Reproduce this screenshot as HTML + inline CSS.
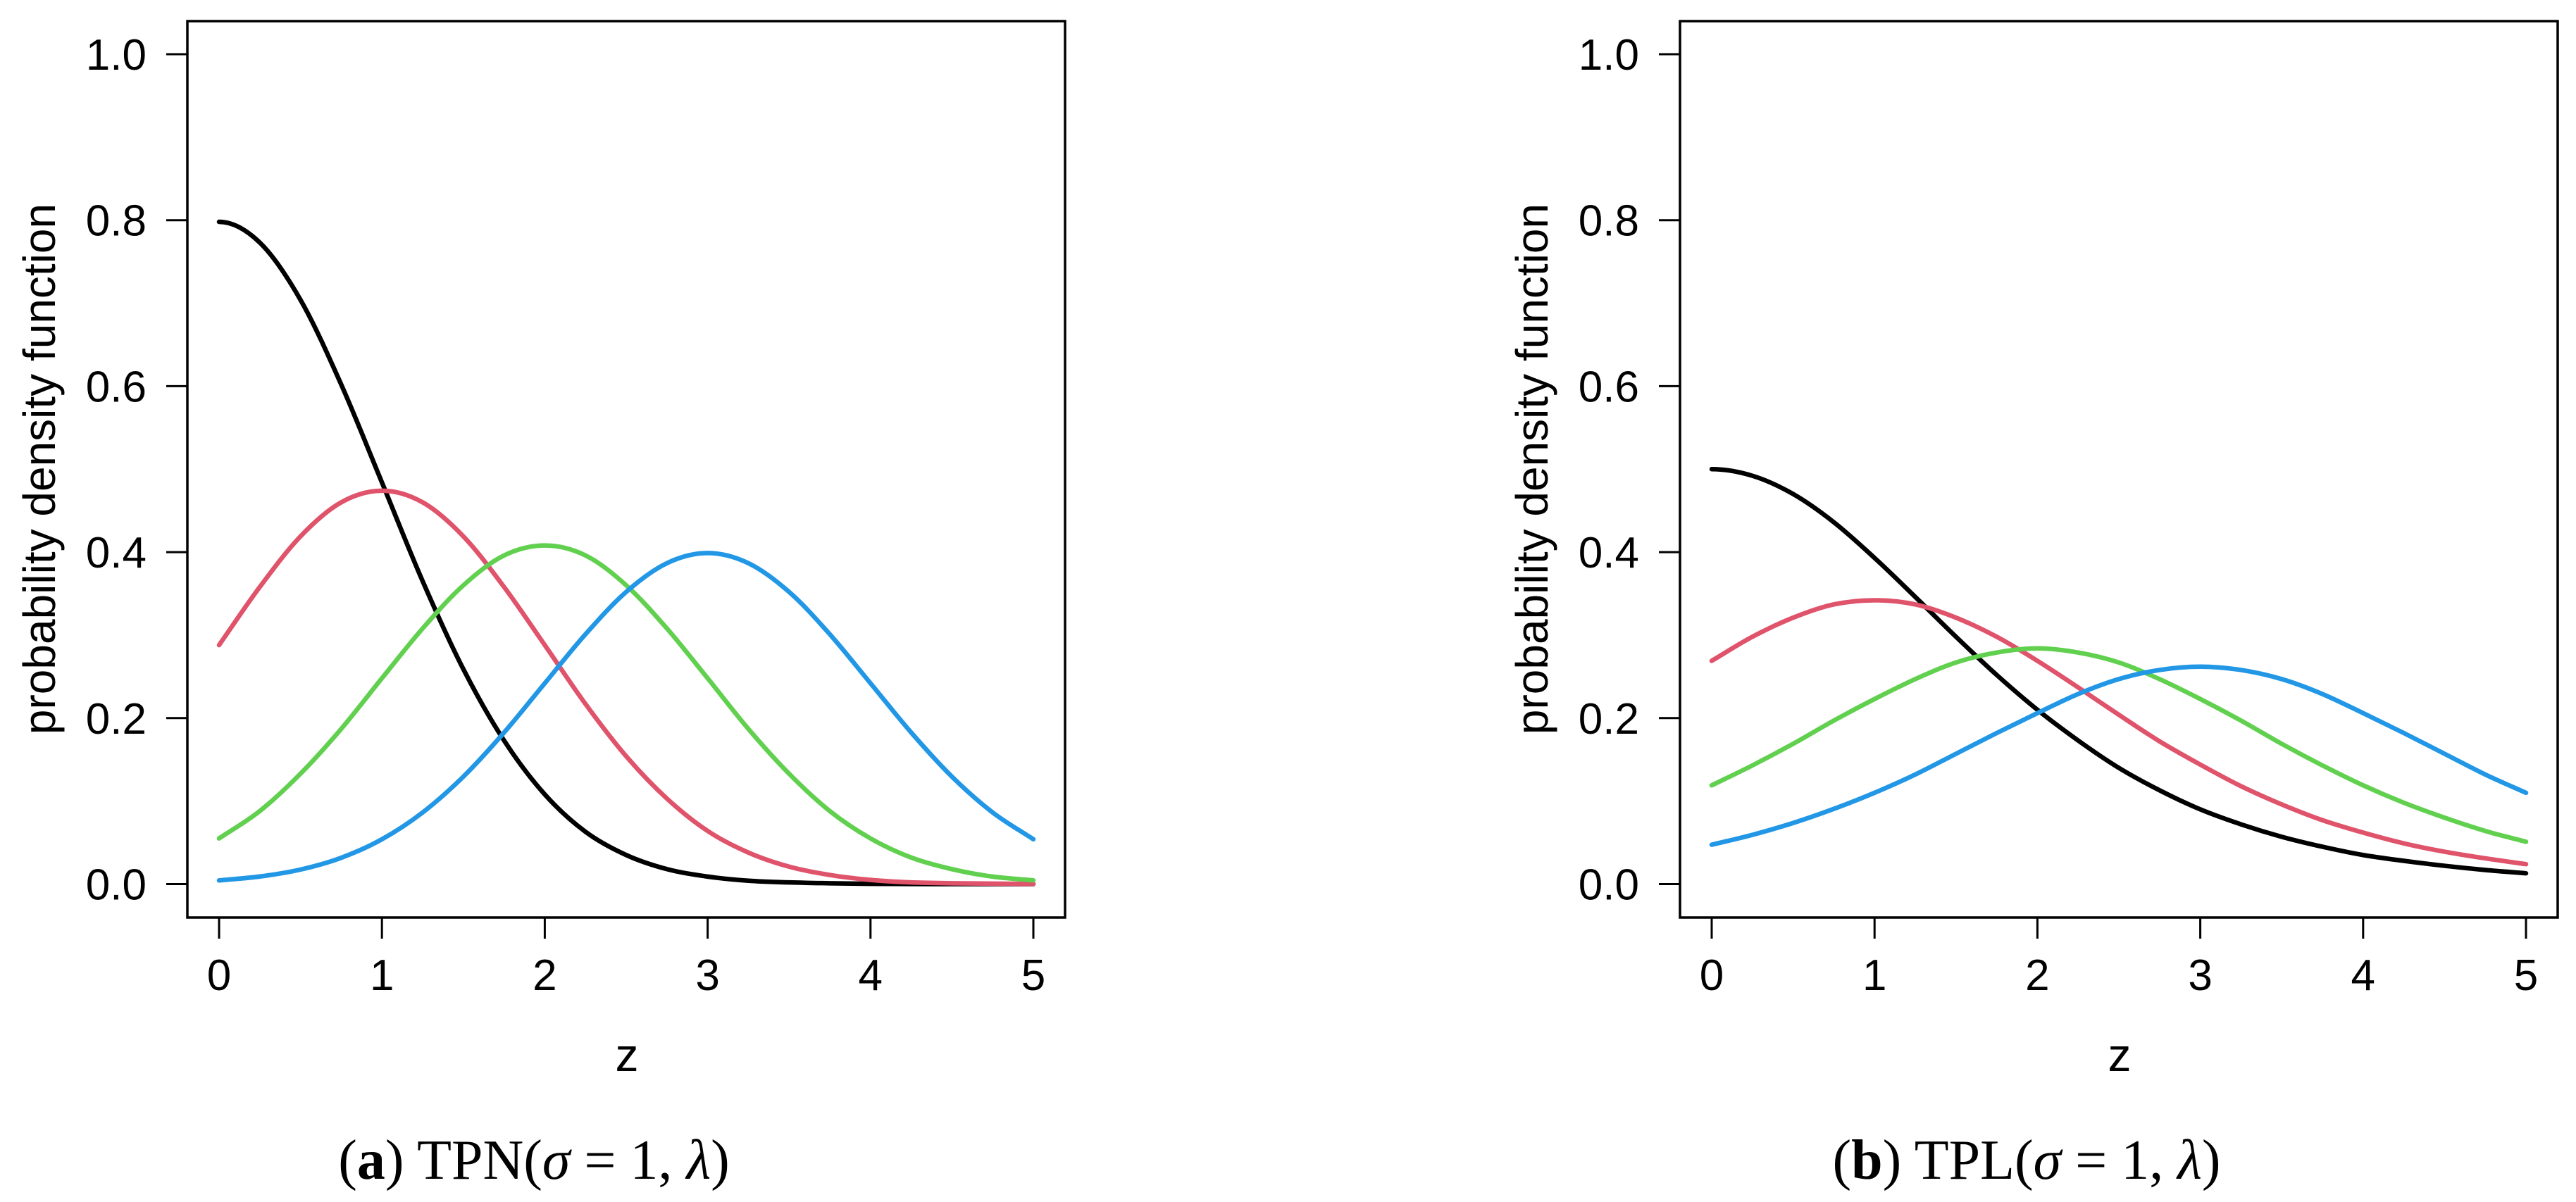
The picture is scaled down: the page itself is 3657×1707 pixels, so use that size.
<!DOCTYPE html>
<html><head><meta charset="utf-8">
<style>
html,body{margin:0;padding:0;background:#fff;}
svg{display:block;}
text{font-family:"Liberation Sans",sans-serif;fill:#000;}
.cap{font-family:"Liberation Serif",serif;}
</style></head>
<body>
<svg id="fig" width="3657" height="1707" viewBox="0 0 3657 1707" xmlns="http://www.w3.org/2000/svg"></svg>
<script>
const zValues=[0,0.25,0.5,0.75,1,1.25,1.5,1.75,2,2.25,2.5,2.75,3,3.25,3.5,3.75,4,4.25,4.5,4.75,5];
const xTicks=[0,1,2,3,4,5];
const yTicks=[0.0,0.2,0.4,0.6,0.8,1.0];
const yTickLabels=["0.0","0.2","0.4","0.6","0.8","1.0"];
const seriesColors=["#000000","#DF536B","#61D04F","#2297E6"];
const tpnBlack=[.798,.773,.704,.602,.484,.365,.259,.173,.108,.063,.035,.018,.009,.004,.002,.001,.0003,.0001,0,0,0];
const tpnRed=[.288,.358,.419,.460,.474,.460,.419,.358,.288,.217,.154,.103,.064,.038,.021,.011,.005,.002,.001,.0005,.0002];
const tpnGreen=[.055,.088,.133,.187,.248,.308,.360,.396,.408,.396,.360,.308,.248,.187,.133,.088,.055,.032,.018,.009,.0045];
const tpnBlue=[.0044,.0091,.0175,.0317,.054,.0863,.1295,.1826,.242,.3011,.3521,.3867,.3989,.3867,.3521,.3011,.242,.1826,.1295,.0863,.054];
const tplBlack=[.5,.492,.470,.436,.393,.346,.298,.252,.210,.173,.140,.113,.090,.072,.057,.045,.035,.028,.022,.017,.013];
const tplRed=[.269,.298,.321,.337,.342,.337,.321,.298,.269,.237,.204,.172,.144,.118,.096,.077,.062,.049,.039,.031,.024];
const tplGreen=[.119,.143,.169,.197,.223,.247,.267,.279,.284,.279,.267,.247,.223,.197,.169,.143,.119,.098,.080,.064,.051];
const tplBlue=[.0474,.0593,.0736,.0906,.110,.132,.157,.182,.206,.229,.247,.258,.262,.258,.247,.229,.206,.182,.157,.132,.110];

const NS="http://www.w3.org/2000/svg";
const svg=document.getElementById('fig');
function mk(tag,attrs,parent){const e=document.createElementNS(NS,tag);for(const k in attrs)e.setAttribute(k,attrs[k]);(parent||svg).appendChild(e);return e;}

function panel(off,series,names,capLetter,capName,id){
  const g=mk('g',{});
  
  
  const x0=311+off,x1=1467+off,y0=1255.5,y1=77;
  const X=v=>x0+(x1-x0)*v/5;
  const Y=v=>y0+(y1-y0)*v/1.0;
  const box=mk('rect',{x:266+off,y:30,width:1246,height:1273,fill:'none',stroke:'#000','stroke-width':3.5},g);
  
  
  xTicks.forEach(t=>{
    const l=mk('line',{x1:X(t),x2:X(t),y1:1303,y2:1333,stroke:'#000','stroke-width':3},g);
    
    
    const tx=mk('text',{x:X(t),y:1406,'font-size':62,'text-anchor':'middle'},g);
    tx.textContent=t;
    
    
  });
  yTicks.forEach((t,i)=>{
    const l=mk('line',{x1:236+off,x2:266+off,y1:Y(t),y2:Y(t),stroke:'#000','stroke-width':3},g);
    
    
    const tx=mk('text',{x:208+off,y:Y(t)+22,'font-size':62,'text-anchor':'end'},g);
    tx.textContent=yTickLabels[i];
    
    
  });
  const xl=mk('text',{x:890+off,y:1521,'font-size':66,'text-anchor':'middle'},g);
  xl.textContent='z';
  
  
  const yl=mk('text',{x:0,y:0,'font-size':64,'text-anchor':'middle',transform:`translate(${78+off},666) rotate(-90)`},g);
  yl.textContent='probability density function';
  
  
  series.forEach((vals,si)=>{
    const pts=vals.map((v,i)=>[X(zValues[i]),Y(v)]);
    const n=pts.length;
    const ghostStart=[2*pts[0][0]-pts[1][0],2*pts[0][1]-pts[1][1]];
    const ghostEnd=[2*pts[n-1][0]-pts[n-2][0],2*pts[n-1][1]-pts[n-2][1]];
    if(si===0 && vals[1]<vals[0]) ghostStart[1]=pts[1][1];
    const P=i=>i<0?ghostStart:(i>=n?ghostEnd:pts[i]);
    let d=`M${pts[0][0]},${pts[0][1]}`;
    for(let i=0;i<n-1;i++){
      const p0=P(i-1),p1=P(i),p2=P(i+1),p3=P(i+2);
      const c1=[p1[0]+(p2[0]-p0[0])/6,p1[1]+(p2[1]-p0[1])/6];
      const c2=[p2[0]-(p3[0]-p1[0])/6,p2[1]-(p3[1]-p1[1])/6];
      d+=` C${c1[0]},${c1[1]} ${c2[0]},${c2[1]} ${p2[0]},${p2[1]}`;
    }
    const p=mk('path',{d:d,fill:'none',stroke:seriesColors[si],'stroke-width':6.5,'stroke-linecap':'round'},g);
    
    
  });
  const cap=mk('text',{x:758+off,y:1674,'font-size':80,'text-anchor':'middle',class:'cap'},g);
  cap.innerHTML=`(<tspan font-weight="bold">${capLetter}</tspan>) ${capName}(<tspan font-style="italic">σ</tspan> = 1, <tspan font-style="italic">λ</tspan>)`;
  
  
}
panel(0,[tpnBlack,tpnRed,tpnGreen,tpnBlue],['tpn-curve-black','tpn-curve-red','tpn-curve-green','tpn-curve-blue'],'a','TPN','tpn');
panel(2119,[tplBlack,tplRed,tplGreen,tplBlue],['tpl-curve-black','tpl-curve-red','tpl-curve-green','tpl-curve-blue'],'b','TPL','tpl');
</script>
</body></html>
